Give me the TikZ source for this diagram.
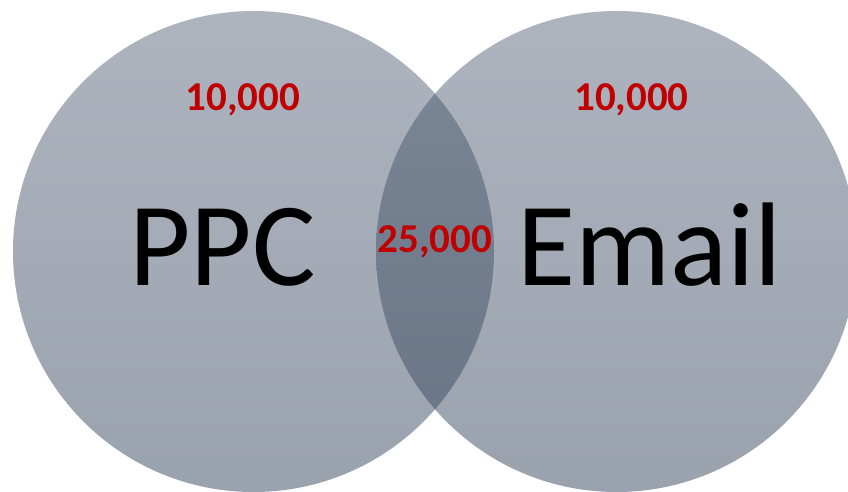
\documentclass[tikz,border=0pt]{standalone}
\usepackage{fontspec}
\setmainfont{Carlito}
\begin{document}
\begin{tikzpicture}[x=1pt,y=1pt,
  setlabel/.style={anchor=base,inner sep=0pt,text=black,font=\fontsize{119}{119}\selectfont},
  countlabel/.style={anchor=base,inner sep=0pt,text=countred,font=\bfseries\fontsize{41}{41}\selectfont}]
  \definecolor{countred}{HTML}{C00000}
  \definecolor{disctop}{HTML}{AEB4BE}
  \definecolor{discbot}{HTML}{9AA2AE}
  \definecolor{lenstop}{HTML}{7C8797}
  \definecolor{lensbot}{HTML}{687485}
  \useasboundingbox (0,0) rectangle (848,491);
  \clip (0,0) rectangle (848,491);
  % the two sets
  \coordinate (cl) at (253.5,239.5);
  \coordinate (cr) at (616.5,239.5);
  \shade[top color=disctop,bottom color=discbot] (cl) circle (240.5);
  \shade[top color=disctop,bottom color=discbot] (cr) circle (240.5);
  % overlap of the two sets
  \begin{scope}
    \clip (cl) circle (240.5);
    \clip (cr) circle (240.5);
    \shade[top color=lenstop,bottom color=lensbot] (370,-1) rectangle (500,480);
  \end{scope}
  % labels
  \node[setlabel] (ppc) at (222.5,206) {PPC};
  \node[setlabel] (email) at (649.5,206) {Email};
  \node[countlabel] (nl) at (243,381) {10,000};
  \node[countlabel] (nr) at (631.5,380) {10,000};
  \node[countlabel] (nb) at (435,239) {25,000};
\end{tikzpicture}
\end{document}
